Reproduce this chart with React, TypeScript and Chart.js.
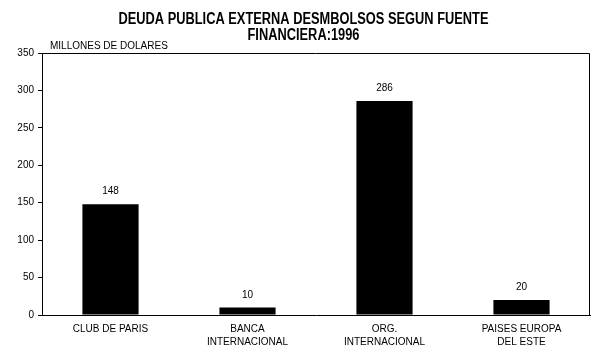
import React, { useEffect, useRef } from "react";
import { Chart, registerables } from "chart.js";

Chart.register(...registerables);

const titleLines = ["DEUDA PUBLICA EXTERNA DESMBOLSOS SEGUN FUENTE", "FINANCIERA:1996"];
const unitLabel = "MILLONES DE DOLARES";
const categories: (string | string[])[] = [
  "CLUB DE PARIS",
  ["BANCA", "INTERNACIONAL"],
  ["ORG.", "INTERNACIONAL"],
  ["PAISES EUROPA", "DEL ESTE"],
];
const values = [148, 10, 286, 20];
const yMin = 0;
const yMax = 350;
const yStep = 50;

const FONT = "'Liberation Sans', Arial, sans-serif";

const overlayPlugin = {
  id: "overlay",
  afterDatasetsDraw(chart: any) {
    const ctx = chart.ctx;
    const meta = chart.getDatasetMeta(0);
    ctx.save();
    ctx.fillStyle = "#000";
    ctx.font = `10px ${FONT}`;
    ctx.textAlign = "center";
    ctx.textBaseline = "alphabetic";
    meta.data.forEach((el: any, i: number) => {
      ctx.fillText(String(values[i]), el.x, el.y - 10);
    });
    ctx.restore();
  },
  afterDraw(chart: any) {
    const ctx = chart.ctx;
    const a = chart.chartArea;
    ctx.save();
    ctx.strokeStyle = "#000";
    ctx.lineWidth = 1;
    ctx.beginPath();
    ctx.moveTo(Math.round(a.left) - 0.5, Math.round(a.top) + 0.5);
    ctx.lineTo(Math.round(a.right) - 0.5, Math.round(a.top) + 0.5);
    ctx.lineTo(Math.round(a.right) - 0.5, Math.round(a.bottom));
    ctx.stroke();
    // titles
    ctx.fillStyle = "#000";
    ctx.textAlign = "center";
    ctx.textBaseline = "alphabetic";
    ctx.font = `bold 16px 'Liberation Sans Narrow', 'Arial Narrow', ${FONT}`;
    const cx = chart.width / 2;
    const w0 = ctx.measureText(titleLines[0]).width;
    const sx = Math.min(1, 370 / w0);
    [24, 40].forEach((y, i) => {
      ctx.save();
      ctx.translate(cx, y);
      ctx.scale(sx, 1);
      ctx.fillText(titleLines[i], 0, 0);
      ctx.restore();
    });
    ctx.font = `10px ${FONT}`;
    ctx.textAlign = "left";
    ctx.fillText(unitLabel, 50, 49);
    ctx.restore();
  },
};

export default function App() {
  const ref = useRef<HTMLCanvasElement>(null);
  useEffect(() => {
    if (!ref.current) return;
    const chart = new Chart(ref.current, {
      type: "bar",
      data: {
        labels: categories as any,
        datasets: [
          {
            data: values,
            backgroundColor: "#000",
            borderWidth: 0,
            barPercentage: 0.41,
            categoryPercentage: 1,
          },
        ],
      },
      options: {
        animation: false,
        responsive: false,
        maintainAspectRatio: false,
        layout: { padding: { top: 53, right: 17, bottom: 0, left: 0 } },
        plugins: {
          legend: { display: false },
          title: { display: false },
          tooltip: { enabled: false },
        },
        scales: {
          x: {
            grid: { display: true, drawOnChartArea: false, drawTicks: false },
            border: { display: true, color: "#000", width: 1 },
            ticks: {
              color: "#000",
              padding: 8,
              maxRotation: 0,
              autoSkip: false,
              font: { family: FONT, size: 10, lineHeight: 1.3 },
            },
            afterFit: (s: any) => {
              s.height = 38;
            },
          },
          y: {
            min: yMin,
            max: yMax,
            grid: {
              display: true,
              drawOnChartArea: false,
              drawTicks: true,
              tickLength: 4,
              color: "#000",
            },
            border: { display: true, color: "#000", width: 1 },
            ticks: {
              stepSize: yStep,
              color: "#000",
              padding: 4,
              font: { family: FONT, size: 10 },
            },
            afterFit: (s: any) => {
              s.width = 42;
            },
          },
        },
      },
      plugins: [overlayPlugin],
    });
    return () => chart.destroy();
  }, []);
  return (
    <div style={{ position: "fixed", left: 0, top: 0, width: 607, height: 353, background: "#fff" }}>
      <canvas ref={ref} width={607} height={353} style={{ width: 607, height: 353, display: "block" }} />
    </div>
  );
}
